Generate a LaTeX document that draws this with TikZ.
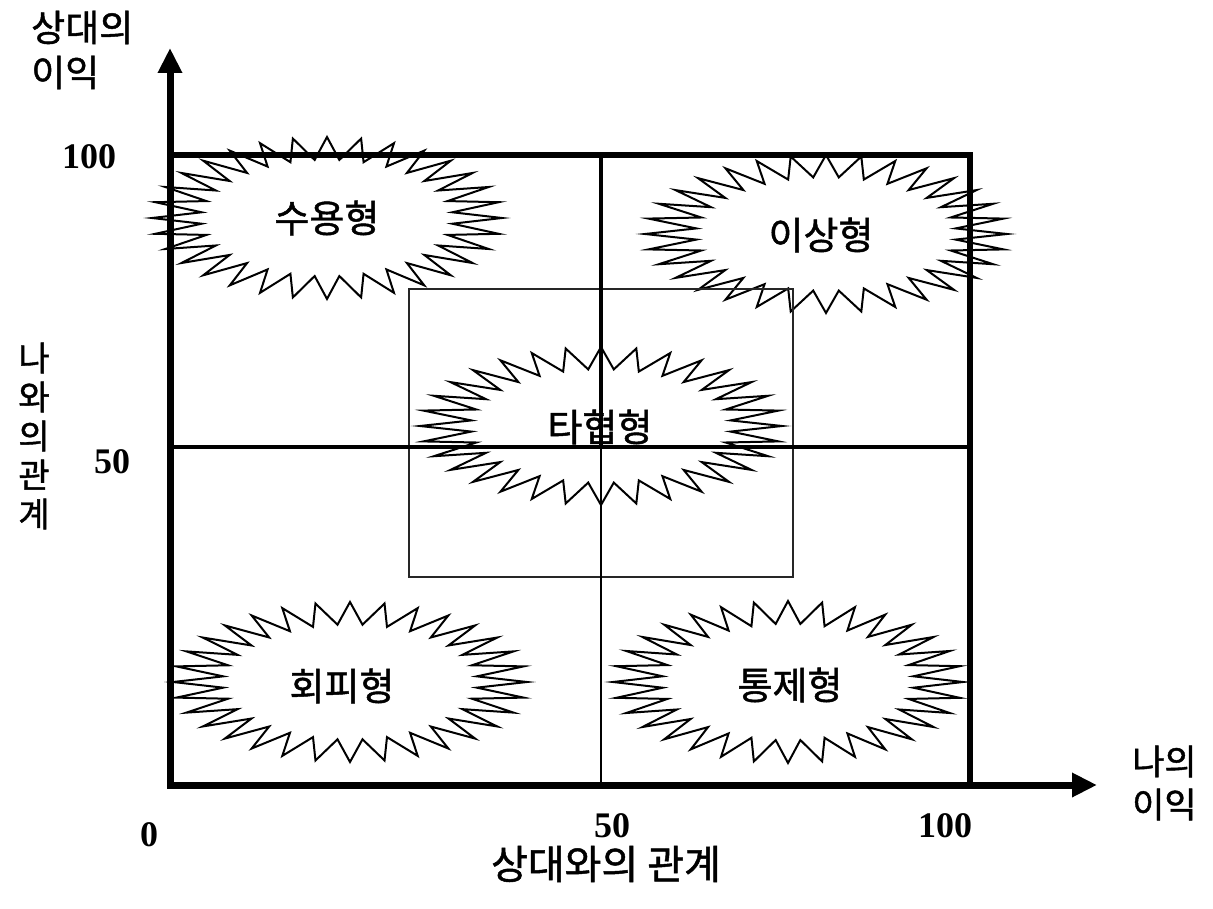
\documentclass[tikz,border=0pt]{standalone}
\usepackage{fontspec}
\setmainfont{Liberation Serif}
\newfontfamily\kr[FakeBold=1.2]{Noto Sans CJK KR}
\usetikzlibrary{arrows.meta}
\newcommand{\burstshape}[4]{%
  \draw[burst] plot[samples=65, domain=0:64, variable=\i]
    ({#1 + (0.86+0.14*cos(180*\i))*#3*cos(\i*5.625)},
     {#2 + (0.86+0.14*cos(180*\i))*#4*sin(\i*5.625)}) -- cycle;}
\begin{document}
\begin{tikzpicture}[x=1pt,y=-1pt,
  lbl/.style={font=\kr\fontsize{38}{42}\selectfont, inner sep=0pt},
  num/.style={font=\bfseries\fontsize{36}{40}\selectfont, inner sep=0pt},
  burst/.style={line width=2pt, line join=miter},
  axisline/.style={line width=7pt, line join=miter,
    {Triangle[length=25pt,width=23pt]}-{Triangle[length=25pt,width=23pt]}},
  frame/.style={line width=5.5pt, line join=miter},
  midthick/.style={line width=4.5pt},
  midh/.style={line width=3.5pt},
  thinline/.style={line width=2pt},
  zone/.style={line width=1.8pt, draw=black!85}
]
\useasboundingbox (0,0) rectangle (1213,909);

% coordinates
\coordinate (Ytip) at (170,48);
\coordinate (O) at (170,785);
\coordinate (Xtip) at (1097,785);
\coordinate (TL) at (170,155);
\coordinate (TR) at (970,155);
\coordinate (BR) at (970,785);
\coordinate (MT) at (601,155);
\coordinate (MC) at (601,447);
\coordinate (MB) at (601,785);
\coordinate (ML) at (170,447);
\coordinate (MR) at (970,447);

% starbursts
\burstshape{327}{218}{175}{81}
\burstshape{826}{234}{181}{79}
\burstshape{601}{426}{181}{79}
\burstshape{350}{682}{177}{80}
\burstshape{788}{682}{175}{81}

% labels in bursts
\node[lbl] (accept) at (327,218) {수용형};
\node[lbl] (ideal) at (821,235) {이상형};
\node[lbl] (comp) at (600,427) {타협형};
\node[lbl] (avoid) at (342,686) {회피형};
\node[lbl] (ctrl) at (790,685) {통제형};

% middle zone rectangle
\draw[zone] (409,289) rectangle (793,577);

% grid lines
\draw[midh] (ML) -- (MR);
\draw[thinline] (MC) -- (MB);
\draw[midthick] (MT) -- (MC);
\draw[frame] (TL) -- (TR) -- (BR);

% axes
\draw[axisline] (Ytip) -- (O) -- (Xtip);

% axis labels
\node[lbl, align=left, anchor=west, font=\kr\fontsize{37}{45}\selectfont] (ylab) at (31,50) {상대의\\이익};
\node[lbl, align=left, anchor=west, font=\kr\fontsize{35}{43}\selectfont] (xlab) at (1132,783) {나의\\이익};
\node[lbl, align=center, font=\kr\fontsize{34}{39}\selectfont] (vlab) at (34,436) {나\\와\\의\\관\\계};
\node[lbl, font=\kr\fontsize{40}{44}\selectfont] (hlab) at (606,864) {상대와의 관계};

% numbers
\node[num] (y100) at (89,157) {100};
\node[num] (y50) at (112,462) {50};
\node[num] (x0) at (149,835) {0};
\node[num] (x50) at (612,826) {50};
\node[num] (x100) at (945,826) {100};
\end{tikzpicture}
\end{document}
